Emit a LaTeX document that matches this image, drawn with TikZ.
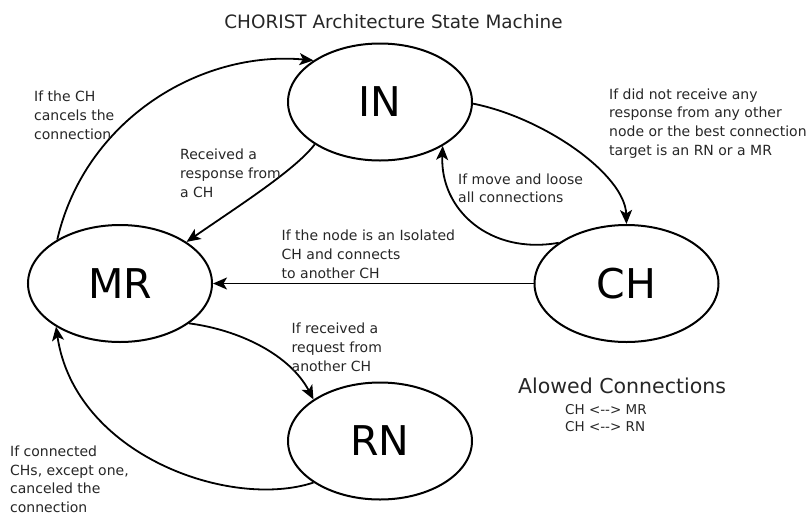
\documentclass[tikz,border=0pt]{standalone}
\usepackage{fontspec}
\setmainfont{DejaVu Sans}
\usetikzlibrary{shapes.geometric,arrows.meta}
\tikzset{
  state/.style={draw=black, line width=2pt, ellipse, minimum width=184pt, minimum height=117pt, inner sep=0pt, font=\fontsize{41}{41}\selectfont},
  conn/.style={line width=1.8pt, -{Stealth[length=14pt,width=12pt,inset=3.5pt]}},
  lbl/.style={anchor=north west, inner sep=0pt, align=left, font=\fontsize{14}{18.8}\selectfont, text=black!85},
}
\begin{document}
\begin{tikzpicture}[x=1pt,y=-1pt]
\useasboundingbox (0,0) rectangle (812,515);
\node[anchor=north, inner sep=0pt, font=\fontsize{18.4}{18.4}\selectfont, text=black!85] (title) at (393.5,14.3) {CHORIST Architecture State Machine};

\node[state] (IN) at (380,102) {IN};
\node[state] (MR) at (120,283.5) {MR};
\node[state] (CH) at (626.5,283.5) {CH};
\node[state] (RN) at (380,441) {RN};

\draw[conn] (MR.145) .. controls (85,120) and (200,50) .. (IN.148);
\draw[conn] (IN.213) .. controls (295,170) and (240,205) .. (MR.32);
\draw[conn] (IN.-1) .. controls (545,118) and (625,175) .. (CH.90);
\draw[conn] (CH.149) .. controls (490,255) and (440,210) .. (IN.-35);
\draw[conn] (CH.180) -- (MR.0);
\draw[conn] (MR.-30) .. controls (240,330) and (290,355) .. (RN.148);
\draw[conn] (RN.212) .. controls (230,510) and (75,455) .. (MR.214);

\node[lbl] (l1) at (34,91) {If the CH\\cancels the\\connection};
\node[lbl] (l2) at (180,148.6) {Received a\\response from\\a CH};
\node[lbl] (l3) at (609,88.3) {If did not receive any\\response from any other\\node or the best connection\\target is an RN or a MR};
\node[lbl] (l4) at (458,173.3) {If move and loose\\all connections};
\node[lbl] (l5) at (281.5,230) {If the node is an Isolated\\CH and connects\\to another CH};
\node[lbl] (l6) at (291.5,322.6) {If received a\\request from\\another CH};
\node[lbl, font=\fontsize{14}{18.5}\selectfont] (l7) at (10,446) {If connected\\CHs, except one,\\canceled the\\connection};

\node[anchor=north west, inner sep=0pt, font=\fontsize{20.5}{20.5}\selectfont, text=black!85] (allowed) at (518,377.7) {Alowed Connections};
\node[anchor=north west, inner sep=0pt, align=left, font=\fontsize{13.5}{16.7}\selectfont, text=black!85] (pairs) at (565,404.5) {CH <-{}-> MR\\CH <-{}-> RN};
\end{tikzpicture}
\end{document}
